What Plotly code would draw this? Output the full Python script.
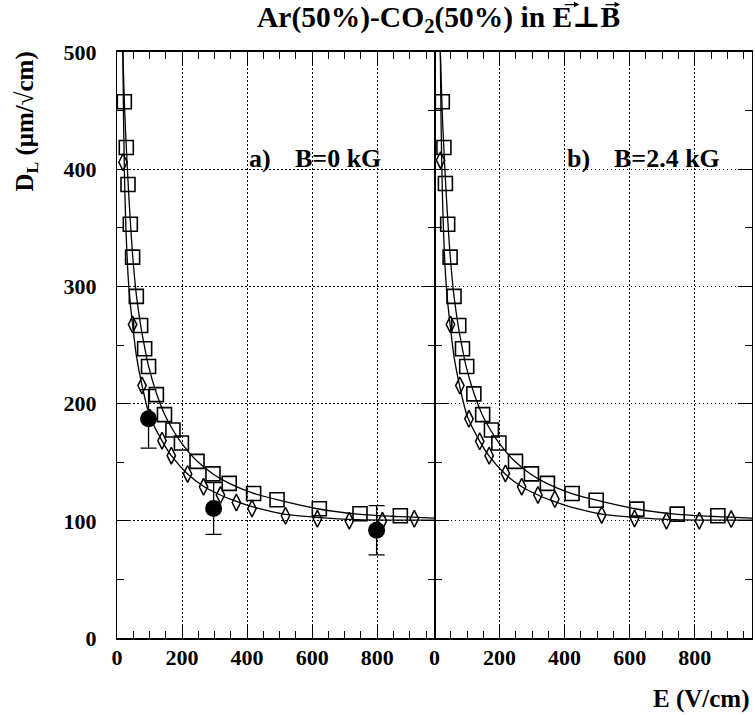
import plotly.graph_objects as go

# squares and diamonds, left panel (B=0 kG)
E_sq_a = [22.5, 28.6, 33.8, 40.9, 48, 59.4, 72.6, 85, 97, 121, 146, 172, 198, 246, 295, 345, 420, 492, 622, 747, 871]
D_sq_a = [457.5, 418.5, 387, 353, 325, 291.5, 266.7, 246.8, 231.6, 207.7, 190.6, 177.5, 166.4, 150.7, 140, 131.9, 123.3, 118, 110.3, 106, 104.3]
E_dia_a = [18.5, 48, 77, 101, 138.4, 167, 217, 266, 318, 367, 415, 518, 616, 714, 816, 914]
D_dia_a = [406, 267.5, 215.4, 188, 168.4, 155.6, 140, 129, 122, 115.6, 110.5, 104.3, 101.7, 100, 100, 101.7]

# squares and diamonds, right panel (B=2.4 kG)
E_sq_b = [24, 29, 33.5, 40.5, 48, 60, 74.5, 86, 99, 121, 148, 175, 198, 249, 298, 347, 423, 497, 622, 746, 871]
D_sq_b = [457.5, 418.5, 387.8, 353, 325, 291.5, 266.7, 246.8, 231.6, 208.3, 190.6, 177.5, 166.4, 150.7, 140, 131.9, 123.3, 117.5, 110, 105.7, 104.3]
E_dia_b = [18.5, 49, 78, 106, 139, 168, 218, 268, 318, 370, 514, 615, 713, 814, 912]
D_dia_b = [407.7, 267.5, 215.4, 187, 167.8, 155.6, 140.4, 129, 122, 118.5, 105, 102, 100, 100, 101.5]

# measured points (filled circles), left panel only
E_meas = [97, 297, 798]
D_meas = [187, 110.5, 92]
D_meas_err = [25, 22, 21]

# fitted curves
E_fit_sq = [16, 18, 20, 22.5, 25.5, 28.6, 33.8, 40.9, 48, 59.4, 72.6, 85, 97, 121, 146, 172, 198, 246, 295, 345, 420, 492, 612, 740, 870, 976]
D_fit_sq = [520, 500, 481, 459, 437, 419, 390, 356, 327, 293, 267, 248, 232, 209, 191, 177.5, 166.5, 151, 140, 132, 123.5, 118, 110.5, 105.7, 103.5, 102.3]
E_fit_dia = [16.8, 18, 19.6, 21.6, 24.2, 28, 35, 41, 48, 60, 77, 101, 138, 167, 217, 266, 318, 367, 415, 444, 518, 612, 740, 976]
D_fit_dia = [540, 500, 455, 415, 380, 345, 305, 285, 267.5, 240, 215.4, 189, 168.4, 155.6, 140, 129.5, 122, 116.5, 112, 110, 105.5, 103, 101, 100.5]

FONT = "Liberation Serif, DejaVu Serif, serif"

fig = go.Figure()

for xa, ya, Es, Ds, Ed, Dd in [("x", "y", E_sq_a, D_sq_a, E_dia_a, D_dia_a),
                               ("x2", "y2", E_sq_b, D_sq_b, E_dia_b, D_dia_b)]:
    fig.add_trace(go.Scatter(x=E_fit_sq, y=D_fit_sq, mode="lines", xaxis=xa, yaxis=ya,
                             line=dict(color="black", width=1.3, shape="spline", smoothing=0.8)))
    fig.add_trace(go.Scatter(x=E_fit_dia, y=D_fit_dia, mode="lines", xaxis=xa, yaxis=ya,
                             line=dict(color="black", width=1.3, shape="spline", smoothing=0.8)))
    fig.add_trace(go.Scatter(x=Es, y=Ds, mode="markers", xaxis=xa, yaxis=ya,
                             marker=dict(symbol="square-open", size=14, color="black",
                                         line=dict(width=1.6, color="black"))))
    fig.add_trace(go.Scatter(x=Ed, y=Dd, mode="markers", xaxis=xa, yaxis=ya,
                             marker=dict(symbol="diamond-tall-open", size=12, color="black",
                                         line=dict(width=1.5, color="black"))))

fig.add_trace(go.Scatter(x=E_meas, y=D_meas, mode="markers", xaxis="x", yaxis="y",
                         marker=dict(symbol="circle", size=17, color="black"),
                         error_y=dict(type="data", array=D_meas_err, width=8, thickness=1.3, color="black")))

tickfont = dict(family=FONT, size=22, color="black", weight="bold")
xax = dict(range=[0, 976], showline=True, linecolor="black", linewidth=1.5, mirror="ticks",
           ticks="inside", ticklen=14, tickwidth=1.3, tickcolor="black", dtick=200, tick0=0,
           minor=dict(dtick=50, ticklen=7, ticks="inside", tickcolor="black", tickwidth=1.3, showgrid=False),
           showgrid=True, gridcolor="black", griddash="1.5px,2.5px", gridwidth=1, zeroline=False,
           tickfont=tickfont, ticklabelstandoff=-1)
yax = dict(range=[0, 500], showline=True, linecolor="black", linewidth=1, mirror="ticks",
           ticks="inside", ticklen=14, tickwidth=1.3, tickcolor="black", dtick=100, tick0=0,
           minor=dict(dtick=50, ticklen=7, ticks="inside", tickcolor="black", tickwidth=1.3, showgrid=False),
           showgrid=True, gridcolor="black", griddash="1.5px,2.5px", gridwidth=1, zeroline=False,
           tickfont=tickfont, ticklabelstandoff=15)

fig.update_layout(
    width=755, height=715,
    margin=dict(l=117, r=3, t=52, b=77),
    paper_bgcolor="white", plot_bgcolor="white",
    showlegend=False,
    xaxis=dict(xax, domain=[0, 0.5], anchor="y"),
    xaxis2=dict(xax, domain=[0.5, 1], anchor="y2"),
    yaxis=dict(yax, anchor="x"),
    yaxis2=dict(yax, anchor="x2", showticklabels=False),
)

# title, plus vector arrows drawn over E and B
fig.add_annotation(text="<b>Ar(50%)-CO<sub>2</sub>(50%) in E<span style='font-family:DejaVu Serif'>\u22a5</span>B</b>",
                   x=0.795, y=1.0575, xref="paper", yref="paper", xanchor="right", yanchor="middle",
                   showarrow=False, font=dict(family=FONT, size=29.5, color="black"))
for xa in [0.7280, 0.7922]:
    fig.add_annotation(text="", x=xa, y=1.0810, xref="paper", yref="paper", ax=-16, ay=0,
                       showarrow=True, arrowhead=2, arrowsize=0.9, arrowwidth=1.2, arrowcolor="black")

ann_font = dict(family=FONT, size=26, color="black")
fig.add_annotation(text="<b>a)</b>", x=400, y=400, xref="x", yref="y", xanchor="left", yanchor="bottom",
                   showarrow=False, font=ann_font, yshift=-6)
fig.add_annotation(text="<b>B=0 kG</b>", x=540, y=400, xref="x", yref="y", xanchor="left", yanchor="bottom",
                   showarrow=False, font=ann_font, yshift=-6)
fig.add_annotation(text="<b>b)</b>", x=402, y=400, xref="x2", yref="y2", xanchor="left", yanchor="bottom",
                   showarrow=False, font=ann_font, yshift=-6)
fig.add_annotation(text="<b>B=2.4 kG</b>", x=546, y=400, xref="x2", yref="y2", xanchor="left", yanchor="bottom",
                   showarrow=False, font=ann_font, yshift=-6)

fig.add_annotation(text="<b>D<sub>L</sub> (\u03bcm/\u221acm)</b>", textangle=-90,
                   x=-0.142, y=1.004, xref="paper", yref="paper", xanchor="center", yanchor="top",
                   showarrow=False, font=dict(family=FONT, size=25, color="black"))
fig.add_annotation(text="<b>E (V/cm)</b>", x=1.0, y=-0.104, xref="paper", yref="paper",
                   xanchor="right", yanchor="middle", showarrow=False,
                   font=dict(family=FONT, size=25, color="black"))

# the page gets no body margin, so the 755x715 figure fills the window exactly
fig.write_html("out.html", config={"displayModeBar": False},
               post_script="document.body.style.margin='0';")
